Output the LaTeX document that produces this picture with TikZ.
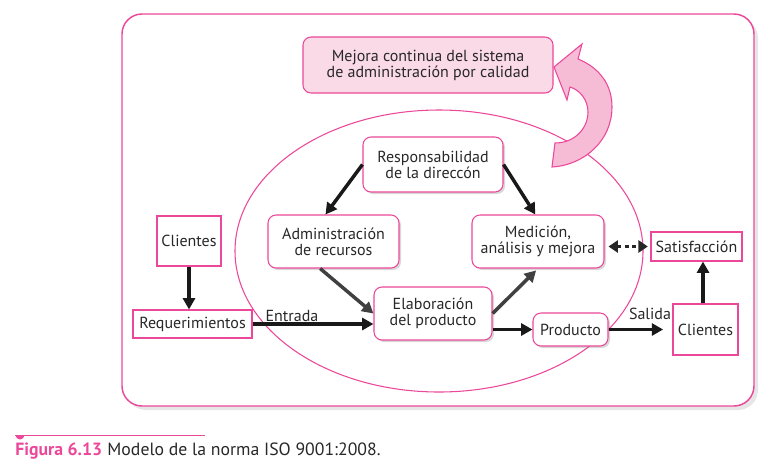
\documentclass[tikz,border=0pt]{standalone}
\usepackage{fontspec}
\setmainfont{PT Sans}
\usetikzlibrary{arrows.meta,shadows}
\definecolor{pk}{RGB}{236,72,153}
\definecolor{pkfill}{RGB}{251,218,232}
\definecolor{pkarrow}{RGB}{246,188,214}
\definecolor{txt}{RGB}{40,40,40}
\begin{document}
\begin{tikzpicture}[x=0.75pt,y=-0.75pt,
  basefont/.style={font=\fontsize{12}{12}\selectfont, text=txt, align=center, inner sep=0pt},
  rbox/.style={basefont, draw=pk, line width=0.8pt, rounded corners=6pt, fill=white,
     drop shadow={shadow xshift=1.5pt, shadow yshift=-1.5pt, opacity=0.3}},
  mbox/.style={basefont, draw=pk, line width=0.8pt, rounded corners=6pt, fill=pkfill},
  sbox/.style={basefont, draw=pk, line width=0.8pt, fill=white},
  sz/.style 2 args={minimum width=#1*0.75pt, minimum height=#2*0.75pt},
  arr/.style={line width=2.6pt, draw=black!90, -{Triangle[length=8.5pt,width=9pt]}},
  garr/.style={arr, draw=black!75},
  lbl/.style={basefont}
]
\useasboundingbox (0,0) rectangle (772,469);
% outer frame
\draw[draw=pk, line width=1.1pt, rounded corners=15pt, fill=white,
  drop shadow={shadow xshift=3pt, shadow yshift=-3pt, opacity=0.2}] (122,14) rectangle (754,406);
% big ellipse
\draw[pk, line width=0.8pt] (439,251) ellipse [x radius=204, y radius=141];
% circular arrow
\draw[pk, line width=0.8pt, fill=pkarrow, line join=miter]
  (554,67) -- (582,44) -- (578,59)
  .. controls (600,68) and (612,85) .. (612,107)
  .. controls (612,140) and (585,165) .. (552,167)
  -- (555,143)
  .. controls (575,143) and (588,128) .. (588,112)
  .. controls (588,100) and (580,90) .. (570,87)
  -- (567,100) -- cycle;
% nodes
\node[mbox, sz={250}{56}] (mej) at (428,65) {Mejora continua del sistema\\de administración por calidad};
\node[rbox, sz={140}{55}] (resp) at (433,164.5) {Responsabilidad\\de la direccón};
\node[rbox, sz={131}{53}] (adm) at (333.5,241.5) {Administración\\de recursos};
\node[rbox, sz={132}{53}] (med) at (538,241.5) {Medición,\\análisis y mejora};
\node[rbox, sz={118}{53}] (elab) at (433,313.5) {Elaboración\\del producto};
\node[rbox, sz={75}{33}] (prod) at (570.5,329.5) {Producto};
\node[sbox, sz={91}{29}] (sat) at (696.5,246.5) {Satisfacción};
\node[sbox, sz={65}{51}] (cli2) at (705.5,329.5) {Clientes};
\node[sbox, sz={64}{50}] (cli1) at (189,241) {Clientes};
\node[sbox, sz={119}{28}] (req) at (192.5,324) {Requerimientos};
% connectors
\draw[arr] (cli1.south) -- (cli1.south |- req.north);
\draw[arr] (req.east) -- (req.east -| elab.west);
\draw[arr] (resp.west) -- ([xshift=-6pt]adm.north);
\draw[arr] (resp.east) -- ([xshift=-2pt]med.north);
\draw[garr] ([xshift=-10pt]adm.south) -- (elab.west);
\draw[garr, shorten >=2pt] (elab.east) -- (med.south);
\draw[arr] (elab.east |- prod.west) -- (prod.west);
\draw[arr] (prod.east) -- ([xshift=-7pt]cli2.west);
\draw[arr] (cli2.north -| 703,0) -- (sat.south -| 703,0);
\draw[line width=2.6pt, draw=black!85, dash pattern=on 3pt off 2.5pt,
  {Triangle[length=7pt,width=9pt]}-{Triangle[length=7pt,width=9pt]},
  shorten <=3pt, shorten >=2pt] (med.east |- sat.west) -- (sat.west);
% labels
\node[lbl] (entrada) at (292,316) {Entrada};
\node[lbl] (salida) at (650,314) {Salida};
% caption
\draw[pk, line width=0.7pt] (15,435) coordinate (capL) -- (205,435) coordinate (capR);
\fill[pk] (15.5,435) arc[start angle=180, end angle=0, radius=4.5];
\node[anchor=base west, inner sep=0pt, font=\fontsize{13.3}{15}\selectfont] (cap) at (15,455)
  {\textcolor{pk}{\textbf{Figura 6.13}}\hspace{4pt}\textcolor{txt}{Modelo de la norma ISO 9001:2008.}};
\end{tikzpicture}
\end{document}
